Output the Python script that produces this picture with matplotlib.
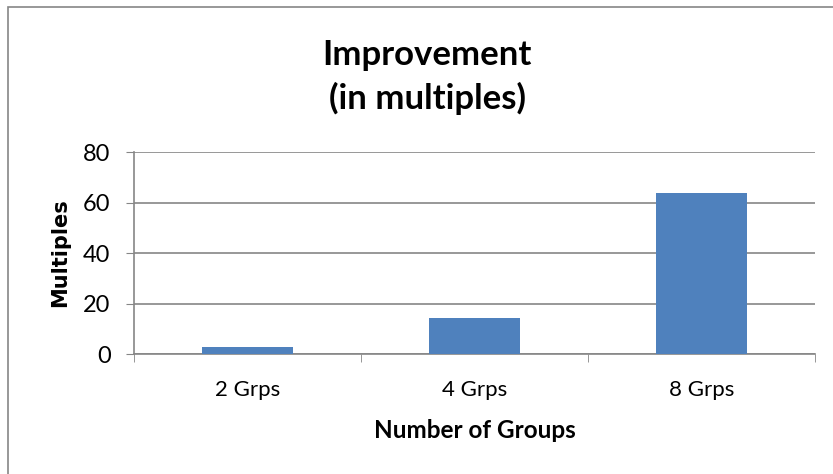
import matplotlib
matplotlib.use("Agg")
import matplotlib.pyplot as plt
from matplotlib.patches import Rectangle

# data
groups = ["2 Grps", "4 Grps", "8 Grps"]
multiples = [3.0, 14.4, 64.0]
yticks = [0, 20, 40, 60, 80]

plt.rcParams['font.family'] = ['Lato', 'DejaVu Sans']

fig = plt.figure(figsize=(8.33, 4.74), dpi=100)
ax = fig.add_axes([0.161, 0.253, 0.817, 0.426])

x = list(range(len(groups)))
ax.bar(x, multiples, width=0.4, color="#4F81BD", zorder=3)

ax.set_xlim(-0.5, len(groups) - 0.5)
ax.set_ylim(0, 80)
ax.set_yticks(yticks)
ax.set_yticklabels([str(t) for t in yticks], fontsize=17)
ax.set_xticks(x)
ax.set_xticklabels(groups, fontsize=16)
ax.tick_params(axis="x", length=0, pad=19)
ax.set_xticks([i - 0.5 for i in range(len(groups) + 1)], minor=True)
ax.tick_params(axis="x", which="minor", length=6, color="#868686")
ax.tick_params(axis="y", length=6, color="#868686", pad=11)

ax.grid(axis="y", color="#868686", linewidth=1.2, zorder=0)
for s in ["top", "right"]:
    ax.spines[s].set_visible(False)
for s in ["left", "bottom"]:
    ax.spines[s].set_color("#868686")
    ax.spines[s].set_linewidth(1.2)

ax.set_xlabel("Number of Groups", fontsize=17.5, fontweight="bold", labelpad=13)
ax.set_ylabel("Multiples", fontsize=15, fontweight="bold", family="DejaVu Sans", labelpad=9)

fig.text(0.513, 0.885, "Improvement", ha="center", va="center", fontsize=25, fontweight="bold")
fig.text(0.513, 0.793, "(in multiples)", ha="center", va="center", fontsize=25, fontweight="bold")

# outer chart border
fig.patches.append(Rectangle((0.0102, -0.05), 1.1, 0.9846 + 0.05, transform=fig.transFigure,
                             fill=False, edgecolor="#868686", linewidth=1.2))

fig.savefig("out.png", dpi=100)
